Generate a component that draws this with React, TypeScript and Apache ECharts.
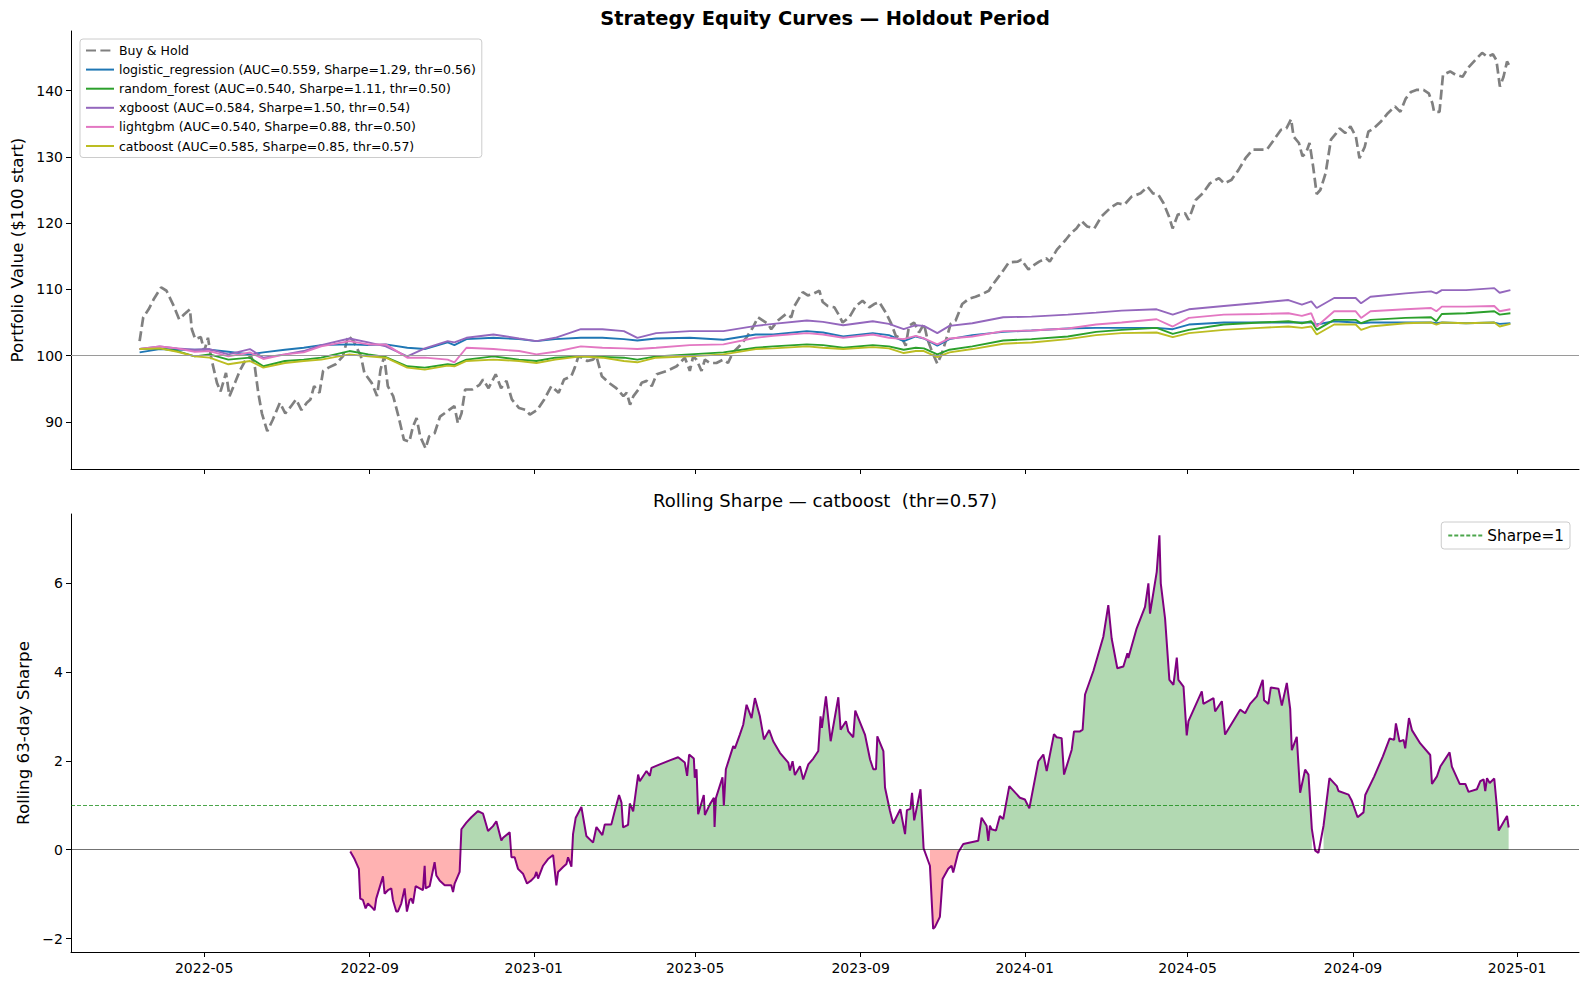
import * as echarts from "echarts";
import { useEffect, useRef } from "react";

// holdout starts 2022-03-14; every x value below is a day offset from it
const START = Date.UTC(2022, 2, 14);
const DAY_MS = 86400000;
const X_MIN_DAY = -51;
const X_MAX_DAY = 1070;

const MONTH_TICKS = ["2022-05", "2022-09", "2023-01", "2023-05", "2023-09", "2024-01", "2024-05", "2024-09", "2025-01"];
const EQUITY_TICKS = [90, 100, 110, 120, 130, 140];
const SHARPE_TICKS = [-2, 0, 2, 4, 6];

const BUY_HOLD: [number, number][] = [
  [0, 102.2], [2.7, 105.8], [6.7, 107], [10.7, 108.6], [16, 110.3], [20, 109.8], [25.4, 107.5], [29.4, 105.5],
  [33.4, 106.3], [37.4, 107], [38.8, 104], [41.4, 102.5], [45.5, 102.8], [48.1, 100.7], [50.8, 102.7], [53.5, 99.4],
  [57.5, 95.9], [60.2, 94.6], [64.2, 97.4], [66.8, 93.9], [70.9, 95.9], [74.9, 97.9], [78.9, 99.4], [82.9, 99.9],
  [85.6, 98.4], [88.2, 94.4], [90.9, 91.3], [94.9, 88.6], [98.9, 90.3], [104.3, 92.9], [108.3, 91.3], [112.3, 92.3],
  [116.3, 93.4], [120.3, 91.8], [124.3, 92.9], [127, 93.4], [129.7, 95.4], [133.7, 94.4], [136.4, 97.7], [140.4, 98.2],
  [145.7, 98.7], [151.1, 99.9], [155.1, 103], [159.1, 102.2], [161.8, 101], [164.4, 100], [167.1, 97.4], [172.5, 95.9],
  [176.5, 93.9], [179.1, 97.9], [181.8, 99.9], [184.5, 95.4], [188.5, 93.9], [192.5, 90.8], [196.5, 87.3], [200.5, 87],
  [203.2, 89.3], [205.9, 90.6], [208.6, 87.8], [212.6, 86], [215.2, 87.8], [219.3, 88.3], [223.3, 90.8], [228.6, 91.6],
  [234, 92.4], [236.6, 89.8], [239.3, 91.3], [242, 94.9], [247.3, 94.9], [252.7, 95.6], [255.3, 96.4], [259.4, 95.1],
  [264.7, 97.2], [268.7, 95.1], [272.7, 96.2], [276.7, 93.4], [282.1, 92.1], [287.4, 91.8], [290.1, 91.1], [295.5, 91.8],
  [300.8, 93.4], [306.1, 95.4], [311.5, 94.4], [315.5, 96.4], [320.9, 96.9], [323.5, 98.2], [326.2, 99.9], [328.9, 99.7],
  [332.9, 99.2], [336.9, 99.4], [339.6, 99.9], [343.6, 96.9], [348.9, 95.9], [354.3, 95.1], [359.6, 93.9], [362.1, 94.4],
  [364.6, 92.6], [367.1, 93.9], [370.8, 94.9], [373.2, 95.9], [377, 96.2], [380.7, 95.4], [384.4, 97.2], [391.8, 97.7],
  [399.2, 98.4], [405.3, 99.7], [407.8, 98.4], [409, 97.7], [411.5, 99.9], [414, 99.4], [417.7, 97.7], [420.2, 99.4],
  [423.9, 98.9], [428.8, 98.9], [433.7, 99.4], [437.4, 98.9], [441.1, 100.5], [446.1, 101.5], [451, 102.7], [456, 104.3],
  [459.7, 105.8], [463.4, 105.3], [467.1, 104.8], [469.5, 104], [474.5, 105.3], [480.6, 106.3], [484.4, 105.8], [486.8, 107.5],
  [493, 109.6], [496.7, 109.1], [500.4, 109.3], [505.3, 109.8], [507.8, 108.1], [511.5, 107.5], [516.5, 107.3], [520.2, 106],
  [522.6, 105], [527.6, 105.8], [532.5, 107.5], [537.4, 108.3], [542.4, 107.3], [546.1, 107.8], [549.8, 108.1], [554.7, 106.5],
  [558.4, 105], [562.1, 103], [567.1, 102.5], [569.5, 101.5], [572, 104.5], [575.7, 105], [579.4, 103.5], [583.1, 104.8],
  [585.6, 102.5], [589.3, 100.5], [593, 98.8], [596.7, 100.5], [600.4, 103], [602.9, 104.8], [606.6, 105.3], [611.5, 107.8],
  [616.5, 108.6], [621.4, 108.9], [626.3, 109.3], [631.3, 109.8], [633.7, 110.6], [637.4, 111.6], [641.1, 112.6], [646.2, 114.1],
  [652.8, 114.2], [655.4, 114.5], [660.7, 113], [663.4, 113.5], [668.7, 114.2], [673.9, 114.7], [676.6, 114.2], [681.9, 116],
  [688.5, 117.5], [692.5, 118.5], [696.4, 119.2], [700.4, 120.3], [704.4, 119.5], [709.7, 119.2], [715, 121], [721.6, 122.3],
  [726.9, 123], [732.1, 122.8], [737.4, 124], [744.1, 124.5], [749.3, 125.5], [753.3, 124.5], [757.3, 124.3], [761.2, 123],
  [765.2, 121], [767.9, 119.2], [771.8, 121.3], [777.1, 121.5], [779.8, 120.5], [785.1, 123.5], [790.3, 124.5], [795.6, 126],
  [802.3, 126.8], [806.2, 126], [811.5, 126.5], [816.8, 128], [822.1, 129.8], [827.4, 131.1], [832.7, 131.1], [838, 131.1],
  [843.3, 132.6], [848.5, 134.1], [852.5, 134.3], [856, 135.7], [857.8, 133.1], [861.8, 132.1], [864.4, 130.1], [867.1, 130.6],
  [869.7, 132.1], [872.4, 128.5], [875, 124.4], [877.7, 125], [881.6, 127.5], [885.6, 132.6], [889.6, 133.6], [892.2, 134.3],
  [896.2, 133.6], [900.1, 134.6], [904.1, 133.1], [906.8, 129.8], [910.7, 131.5], [913.4, 133.8], [917.3, 134.3], [922.6, 135.3],
  [927.9, 136.6], [933.2, 137.6], [937.2, 136.8], [941.2, 138.8], [945.1, 139.8], [949.1, 140.1], [954.4, 140.1], [958.3, 139.6],
  [961, 138.1], [962.3, 136.8], [966.3, 136.8], [968.9, 142.4], [974.2, 142.9], [978.2, 142.4], [983.5, 142.1], [987.4, 143.4],
  [994.1, 144.9], [998, 145.7], [1002, 145.1], [1006, 145.5], [1008.6, 144.6], [1011.2, 140.6], [1013.9, 142.1], [1016.5, 144.4],
  [1019.2, 143.4],
];

const STRAT_DAYS = [
  0, 15, 28, 41, 52, 66, 82, 92, 108, 122, 135, 156, 170, 183, 199, 212, 229, 234, 243, 263,
  282, 295, 309, 328, 344, 360, 370, 384, 409, 434, 458, 471, 496, 508, 523, 545, 557, 568, 577, 583,
  593, 602, 619, 642, 663, 690, 711, 730, 756, 768, 780, 806, 833, 854, 864, 871, 875, 888, 904, 908,
  915, 941, 960, 964, 968, 986, 1007, 1011, 1019,
];
const LOGISTIC = [
  100.5, 101.0, 100.9, 100.9, 100.9, 100.6, 100.2, 100.5, 100.9, 101.2, 101.6, 101.7, 101.6, 101.7, 101.2, 101.0, 102.0, 101.6, 102.5, 102.7,
  102.5, 102.2, 102.5, 102.7, 102.7, 102.5, 102.3, 102.6, 102.7, 102.4, 103.2, 103.2, 103.7, 103.5, 102.9, 103.4, 103.1, 102.2, 102.9, 102.6,
  101.5, 102.5, 103.1, 103.6, 103.8, 104.1, 104.2, 104.2, 104.2, 104.0, 104.7, 105.0, 105.0, 105.0, 105.0, 105.0, 104.7, 105.2, 105.0, 104.9,
  105.0, 105.0, 105.0, 104.9, 105.0, 104.9, 105.0, 104.8, 104.9,
];
const RANDOM_FOREST = [
  101.0, 101.1, 100.7, 99.9, 100.2, 99.4, 99.7, 98.4, 99.2, 99.4, 99.7, 100.7, 100.2, 99.8, 98.4, 98.2, 98.7, 98.6, 99.4, 99.9,
  99.4, 99.2, 99.7, 99.9, 99.8, 99.7, 99.4, 99.9, 100.2, 100.5, 101.2, 101.4, 101.7, 101.6, 101.2, 101.6, 101.4, 100.9, 101.2, 101.1,
  100.2, 100.9, 101.4, 102.3, 102.5, 102.9, 103.6, 103.9, 104.2, 103.3, 103.9, 104.7, 105.0, 105.2, 104.9, 105.2, 103.9, 105.4, 105.4, 104.9,
  105.4, 105.7, 105.8, 105.2, 106.3, 106.4, 106.7, 106.2, 106.4,
];
const XGBOOST = [
  101.0, 101.4, 101.1, 100.9, 101.0, 100.2, 101.0, 99.7, 100.2, 100.7, 101.6, 102.6, 102.0, 101.4, 99.9, 101.1, 102.2, 102.0, 102.7, 103.2,
  102.6, 102.2, 102.7, 104.0, 104.0, 103.7, 102.7, 103.4, 103.7, 103.7, 104.5, 104.8, 105.3, 105.1, 104.6, 105.2, 104.8, 104.0, 104.6, 104.5,
  103.4, 104.5, 104.9, 105.8, 105.9, 106.2, 106.5, 106.8, 107.0, 106.2, 107.0, 107.5, 108.0, 108.4, 107.7, 108.2, 107.2, 108.7, 108.7, 107.9,
  108.9, 109.4, 109.7, 109.4, 109.9, 109.9, 110.2, 109.5, 109.9,
];
const LIGHTGBM = [
  101.0, 101.4, 101.1, 100.6, 100.7, 99.9, 100.5, 99.5, 100.2, 100.5, 101.4, 102.2, 101.7, 101.7, 99.7, 99.7, 99.4, 99.0, 101.2, 101.0,
  100.7, 100.2, 100.6, 101.4, 101.2, 101.1, 101.0, 101.2, 101.6, 101.7, 102.7, 103.0, 103.4, 103.2, 102.7, 103.2, 102.7, 102.5, 103.0, 102.6,
  101.7, 102.6, 102.9, 103.7, 103.8, 104.1, 104.7, 105.0, 105.5, 104.4, 105.7, 106.2, 106.3, 106.4, 106.0, 106.4, 104.4, 106.7, 106.7, 105.7,
  106.7, 107.0, 107.2, 106.7, 107.4, 107.4, 107.5, 106.7, 107.0,
];
const CATBOOST = [
  101.0, 101.1, 100.6, 99.9, 99.7, 98.7, 99.2, 98.2, 98.9, 99.2, 99.4, 100.2, 99.9, 99.7, 98.2, 97.9, 98.5, 98.4, 99.2, 99.4,
  99.2, 98.9, 99.4, 99.9, 99.7, 99.2, 99.0, 99.7, 99.9, 100.2, 101.0, 101.1, 101.4, 101.2, 101.0, 101.3, 101.1, 100.4, 100.7, 100.7,
  99.8, 100.5, 101.0, 101.8, 102.0, 102.5, 103.1, 103.4, 103.5, 102.8, 103.4, 103.9, 104.2, 104.4, 104.2, 104.4, 103.2, 104.7, 104.7, 103.9,
  104.4, 104.9, 105.0, 104.7, 105.0, 104.9, 105.0, 104.4, 104.8,
];

const SHARPE: [number, number][] = [
  [156.6, -0.04], [159.8, -0.21], [163, -0.43], [164, -1.1], [166, -1.13], [168, -1.32], [169.7, -1.21], [172.2, -1.28],
  [174.7, -1.36], [175.9, -1.1], [180.9, -0.6], [182.1, -0.99], [184.6, -0.91], [187.1, -0.87], [188.3, -1.13], [190.8, -1.39],
  [192, -1.39], [194.5, -1.21], [197, -0.87], [198.7, -1.39], [200.7, -1.13], [202, -1.1], [203.2, -1.21], [205.2, -0.82],
  [208.2, -0.87], [210.6, -0.91], [211.9, -0.36], [212.6, -0.87], [215.6, -0.82], [219.3, -0.28], [220.6, -0.58], [223, -0.69],
  [226.8, -0.8], [231.7, -0.8], [233, -0.95], [234.2, -0.76], [237.9, -0.5], [239.2, 0.46], [242.9, 0.61], [246.6, 0.73],
  [251.6, 0.87], [255.3, 0.81], [259, 0.42], [262.7, 0.53], [265.2, 0.64], [268.9, 0.21], [270.2, 0.27], [275.1, 0.39],
  [276.4, -0.17], [278.8, -0.17], [281.3, -0.43], [285, -0.54], [288, -0.76], [291.2, -0.69], [293.7, -0.61], [295, -0.5],
  [296.2, -0.65], [299.9, -0.36], [303.6, -0.21], [307.4, -0.12], [309.8, -0.8], [311.1, -0.5], [314.8, -0.39], [317.3, -0.32],
  [318.5, -0.17], [321, -0.38], [322.2, 0.35], [324.2, 0.72], [328.4, 0.96], [332.1, 0.31], [337.1, 0.16], [339.6, 0.51],
  [344, 0.33], [345.8, 0.57], [350.7, 0.57], [353.2, 0.87], [356.4, 1.23], [358.2, 1.06], [359.4, 0.5], [363.1, 0.56],
  [364.4, 1.04], [366.9, 0.86], [370.6, 1.69], [371.8, 1.54], [376.8, 1.77], [379.3, 1.66], [380.5, 1.84], [386.7, 1.92],
  [394.1, 2.01], [400.3, 2.08], [405.3, 1.96], [407, 1.66], [408.5, 2.14], [412, 2.05], [412.7, 1.62], [414, 1.81],
  [415.2, 0.8], [419.4, 1.23], [420.2, 0.78], [423.9, 1.02], [426.9, 1.17], [427.4, 0.51], [428.4, 1.16], [433.3, 1.63],
  [434.3, 0.99], [435.8, 1.81], [441.3, 2.33], [442.5, 2.28], [446.2, 2.59], [448.7, 2.81], [451.2, 3.26], [454.9, 2.96],
  [457.4, 3.41], [461.1, 3], [464.1, 2.48], [468, 2.69], [471, 2.44], [476, 2.18], [482.2, 1.96], [483.4, 1.78],
  [485.4, 1.99], [487.1, 1.68], [490.9, 1.88], [493.3, 1.58], [497.1, 1.92], [500.8, 2.05], [504.5, 2.22], [506.2, 3],
  [507.2, 2.74], [510.2, 3.45], [513.7, 2.44], [519.4, 3.43], [521.1, 2.7], [525.1, 2.89], [526.8, 2.66], [530.5, 2.53],
  [532, 3.13], [539.2, 2.59], [543, 2.03], [545.4, 1.81], [547.4, 1.81], [548.4, 2.55], [552.9, 2.22], [554.1, 1.4],
  [557.8, 0.87], [560.2, 0.59], [565.5, 0.91], [569, 0.35], [570.4, 0.89], [573, 0.92], [574.2, 1.28], [575.8, 0.66],
  [580.5, 1.36], [582.8, 0.03], [587.5, -0.36], [589.9, -1.78], [591.2, -1.74], [594.9, -1.51], [596.9, -0.66], [601.1, -0.43],
  [603.6, -0.36], [604.8, -0.51], [608.5, -0.06], [612.3, 0.13], [623.4, 0.2], [625.9, 0.72], [629.6, 0.54], [630.9, 0.2],
  [632.1, 0.54], [633.3, 0.46], [636.6, 0.43], [639.5, 0.76], [642, 0.69], [646.5, 1.43], [654.4, 1.17], [658.1, 1.13],
  [661.4, 0.93], [668.1, 1.99], [671.8, 2.14], [674.3, 1.77], [679.7, 2.6], [681.7, 2.53], [685.4, 2.51], [687.2, 1.69],
  [692.9, 2.25], [694.6, 2.66], [699.1, 2.66], [701, 2.7], [702.8, 3.49], [709, 4.02], [716.4, 4.79], [720.1, 5.5],
  [722.6, 4.75], [726.8, 4.08], [731.3, 4.12], [734.3, 4.42], [735, 4.31], [741.2, 4.98], [747.4, 5.46], [749.9, 5.99],
  [751.1, 5.31], [756.1, 6.25], [758.1, 7.07], [759.1, 5.99], [762.3, 5.2], [765.5, 3.82], [768.5, 3.71], [771, 4.32],
  [772.2, 3.82], [776, 3.67], [778.4, 2.57], [779.7, 2.89], [789.6, 3.56], [790.8, 3.28], [798.3, 3.41], [799.5, 3.11],
  [804.5, 3.34], [806.9, 2.59], [818.1, 3.15], [821.8, 3.07], [825.5, 3.28], [830.5, 3.45], [834.9, 3.82], [835.9, 3.36],
  [839.1, 3.28], [840.9, 3.65], [846.6, 3.62], [849.1, 3.24], [852.8, 3.75], [855.3, 3.17], [856.5, 2.24], [860.2, 2.54],
  [862.7, 1.28], [866.4, 1.8], [868.9, 1.69], [871.4, 0.47], [873.9, -0.02], [876.3, -0.07], [880.1, 0.54], [884.5, 1.61],
  [890, 1.43], [891.2, 1.32], [898.7, 1.24], [901.1, 1.1], [905.4, 0.73], [909.8, 0.84], [911.1, 1.23], [917.8, 1.65],
  [924.2, 2.1], [929.2, 2.5], [932.6, 2.47], [933.9, 2.84], [936.6, 2.43], [939.6, 2.47], [940.8, 2.28], [943.6, 2.96],
  [945.8, 2.69], [952, 2.39], [959.4, 2.13], [960.7, 1.48], [964.4, 1.65], [966.9, 1.87], [973.8, 2.19], [975.5, 1.87],
  [981.3, 1.48], [985.5, 1.48], [987.9, 1.3], [994.1, 1.36], [996.6, 1.54], [999.1, 1.58], [1000.3, 1.32], [1001.6, 1.61],
  [1003.6, 1.5], [1007, 1.6], [1009, 0.95], [1010.3, 0.43], [1016.5, 0.76], [1017.7, 0.5],
];

const MODELS = [
  { name: "logistic_regression (AUC=0.559, Sharpe=1.29, thr=0.56)", color: "#1f77b4", values: LOGISTIC },
  { name: "random_forest (AUC=0.540, Sharpe=1.11, thr=0.50)", color: "#2ca02c", values: RANDOM_FOREST },
  { name: "xgboost (AUC=0.584, Sharpe=1.50, thr=0.54)", color: "#9467bd", values: XGBOOST },
  { name: "lightgbm (AUC=0.540, Sharpe=0.88, thr=0.50)", color: "#e377c2", values: LIGHTGBM },
  { name: "catboost (AUC=0.585, Sharpe=0.85, thr=0.57)", color: "#bcbd22", values: CATBOOST },
];

const FONT = "DejaVu Sans";
const toTime = (day: number) => START + day * DAY_MS;
const monthTime = (m: string) => Date.UTC(+m.slice(0, 4), +m.slice(5, 7) - 1, 1);
const fmtMinus = (v: number) => (v < 0 ? "\u2212" + Math.abs(v) : String(v));

export default function App() {
  const ref = useRef<HTMLDivElement>(null);

  useEffect(() => {
    document.body.style.margin = "0";
    if (!ref.current) return;
    const chart = echarts.init(ref.current, null, { renderer: "svg" });

    const monthValues = MONTH_TICKS.map(monthTime);
    const axisLine = { show: true, onZero: false, lineStyle: { color: "#000", width: 1 } };
    const tick = { show: true, length: 5, lineStyle: { color: "#000", width: 1 } };
    const label = { color: "#000", fontSize: 14, fontFamily: FONT };
    const legendBox = {
      borderColor: "#cccccc",
      borderWidth: 1,
      borderRadius: 3,
      backgroundColor: "rgba(255,255,255,0.8)",
      // hide the marker ECharts puts on line legend icons, keep the line
      itemStyle: { opacity: 0 },
    };

    // dates are plotted on a value axis (ms timestamps) so ticks can sit on fixed months
    const xAxisBase = {
      type: "value",
      min: toTime(X_MIN_DAY),
      max: toTime(X_MAX_DAY),
      splitLine: { show: false },
      axisLine,
    };

    chart.setOption({
      animation: false,
      backgroundColor: "#fff",
      textStyle: { fontFamily: FONT },
      title: [
        {
          text: "Strategy Equity Curves \u2014 Holdout Period",
          left: 825,
          top: 9,
          textAlign: "center",
          padding: 0,
          textStyle: { fontSize: 19.4, fontWeight: "bold", color: "#000", fontFamily: FONT },
        },
        {
          text: "Rolling Sharpe \u2014 catboost  (thr=0.57)",
          left: 825,
          top: 491,
          textAlign: "center",
          padding: 0,
          textStyle: { fontSize: 18, fontWeight: "normal", color: "#000", fontFamily: FONT },
        },
      ],
      legend: [
        {
          ...legendBox,
          data: ["Buy & Hold", ...MODELS.map((m) => m.name)],
          orient: "vertical",
          left: 80,
          top: 39,
          itemWidth: 28,
          itemHeight: 14,
          itemGap: 6.1,
          padding: [5, 6, 5, 5],
          textStyle: { fontSize: 12.5, color: "#000", fontFamily: FONT },
        },
        {
          ...legendBox,
          data: ["Sharpe=1"],
          right: 17,
          top: 522,
          itemWidth: 34,
          itemHeight: 14,
          padding: [6, 6, 6, 6],
          textStyle: { fontSize: 15.3, color: "#000", fontFamily: FONT },
        },
      ],
      grid: [
        { left: 71, top: 31, width: 1508, height: 438 },
        { left: 71, top: 514, width: 1508, height: 438 },
      ],
      xAxis: [
        {
          ...xAxisBase,
          gridIndex: 0,
          axisTick: { ...tick, customValues: monthValues },
          axisLabel: { show: false, customValues: monthValues },
        },
        {
          ...xAxisBase,
          gridIndex: 1,
          axisTick: { ...tick, customValues: monthValues },
          axisLabel: {
            ...label,
            margin: 9,
            customValues: monthValues,
            formatter: (v: number) => new Date(v).toISOString().slice(0, 7),
          },
        },
      ],
      yAxis: [
        {
          type: "value",
          gridIndex: 0,
          min: 82.9,
          max: 149,
          splitLine: { show: false },
          axisLine,
          axisTick: { ...tick, customValues: EQUITY_TICKS },
          axisLabel: { ...label, margin: 8, customValues: EQUITY_TICKS },
          name: "Portfolio Value ($100 start)",
          nameLocation: "middle",
          nameRotate: 90,
          nameGap: 43,
          nameTextStyle: { fontSize: 16.7, color: "#000", fontFamily: FONT },
        },
        {
          type: "value",
          gridIndex: 1,
          min: -2.3,
          max: 7.55,
          splitLine: { show: false },
          axisLine,
          axisTick: { ...tick, customValues: SHARPE_TICKS },
          axisLabel: { ...label, margin: 8, customValues: SHARPE_TICKS, formatter: fmtMinus },
          name: "Rolling 63-day Sharpe",
          nameLocation: "middle",
          nameRotate: 90,
          nameGap: 37,
          nameTextStyle: { fontSize: 16.7, color: "#000", fontFamily: FONT },
        },
      ],
      series: [
        {
          name: "Buy & Hold",
          type: "line",
          xAxisIndex: 0,
          yAxisIndex: 0,
          symbol: "none",
          data: BUY_HOLD.map(([d, v]) => [toTime(d), v]),
          itemStyle: { color: "#808080" },
          lineStyle: { color: "#808080", width: 2.7, type: [10, 4.4] },
          markLine: {
            silent: true,
            symbol: "none",
            label: { show: false },
            lineStyle: { color: "#9a9a9a", width: 1, type: "solid" },
            data: [{ yAxis: 100 }],
          },
          z: 2,
        },
        ...MODELS.map((m) => ({
          name: m.name,
          type: "line",
          xAxisIndex: 0,
          yAxisIndex: 0,
          symbol: "none",
          data: STRAT_DAYS.map((d, i) => [toTime(d), m.values[i]]),
          itemStyle: { color: m.color },
          lineStyle: { color: m.color, width: 1.9 },
          z: 3,
        })),
        {
          name: "positive",
          type: "line",
          xAxisIndex: 1,
          yAxisIndex: 1,
          symbol: "none",
          data: SHARPE.map(([d, v]) => [toTime(d), v > 0 ? v : null]),
          lineStyle: { opacity: 0, width: 0 },
          areaStyle: { color: "rgba(0,128,0,0.3)", opacity: 1 },
          z: 1,
        },
        {
          name: "negative",
          type: "line",
          xAxisIndex: 1,
          yAxisIndex: 1,
          symbol: "none",
          data: SHARPE.map(([d, v]) => [toTime(d), v < 0 ? v : null]),
          lineStyle: { opacity: 0, width: 0 },
          areaStyle: { color: "rgba(255,0,0,0.3)", opacity: 1 },
          z: 1,
        },
        {
          name: "rolling",
          type: "line",
          xAxisIndex: 1,
          yAxisIndex: 1,
          symbol: "none",
          data: SHARPE.map(([d, v]) => [toTime(d), v]),
          lineStyle: { color: "#800080", width: 2 },
          markLine: {
            silent: true,
            symbol: "none",
            label: { show: false },
            data: [
              { yAxis: 0, lineStyle: { color: "rgba(0,0,0,0.55)", width: 1, type: "solid" } },
              { yAxis: 1, lineStyle: { color: "rgba(0,128,0,0.7)", width: 1, type: [4, 2] } },
            ],
          },
          z: 3,
        },
        {
          name: "Sharpe=1",
          type: "line",
          xAxisIndex: 1,
          yAxisIndex: 1,
          symbol: "none",
          data: [],
          itemStyle: { color: "rgba(0,128,0,0.7)" },
          lineStyle: { color: "rgba(0,128,0,0.7)", width: 1, type: [4, 2] },
        },
      ],
    });

    return () => chart.dispose();
  }, []);

  return <div ref={ref} style={{ width: 1587, height: 986 }} />;
}
